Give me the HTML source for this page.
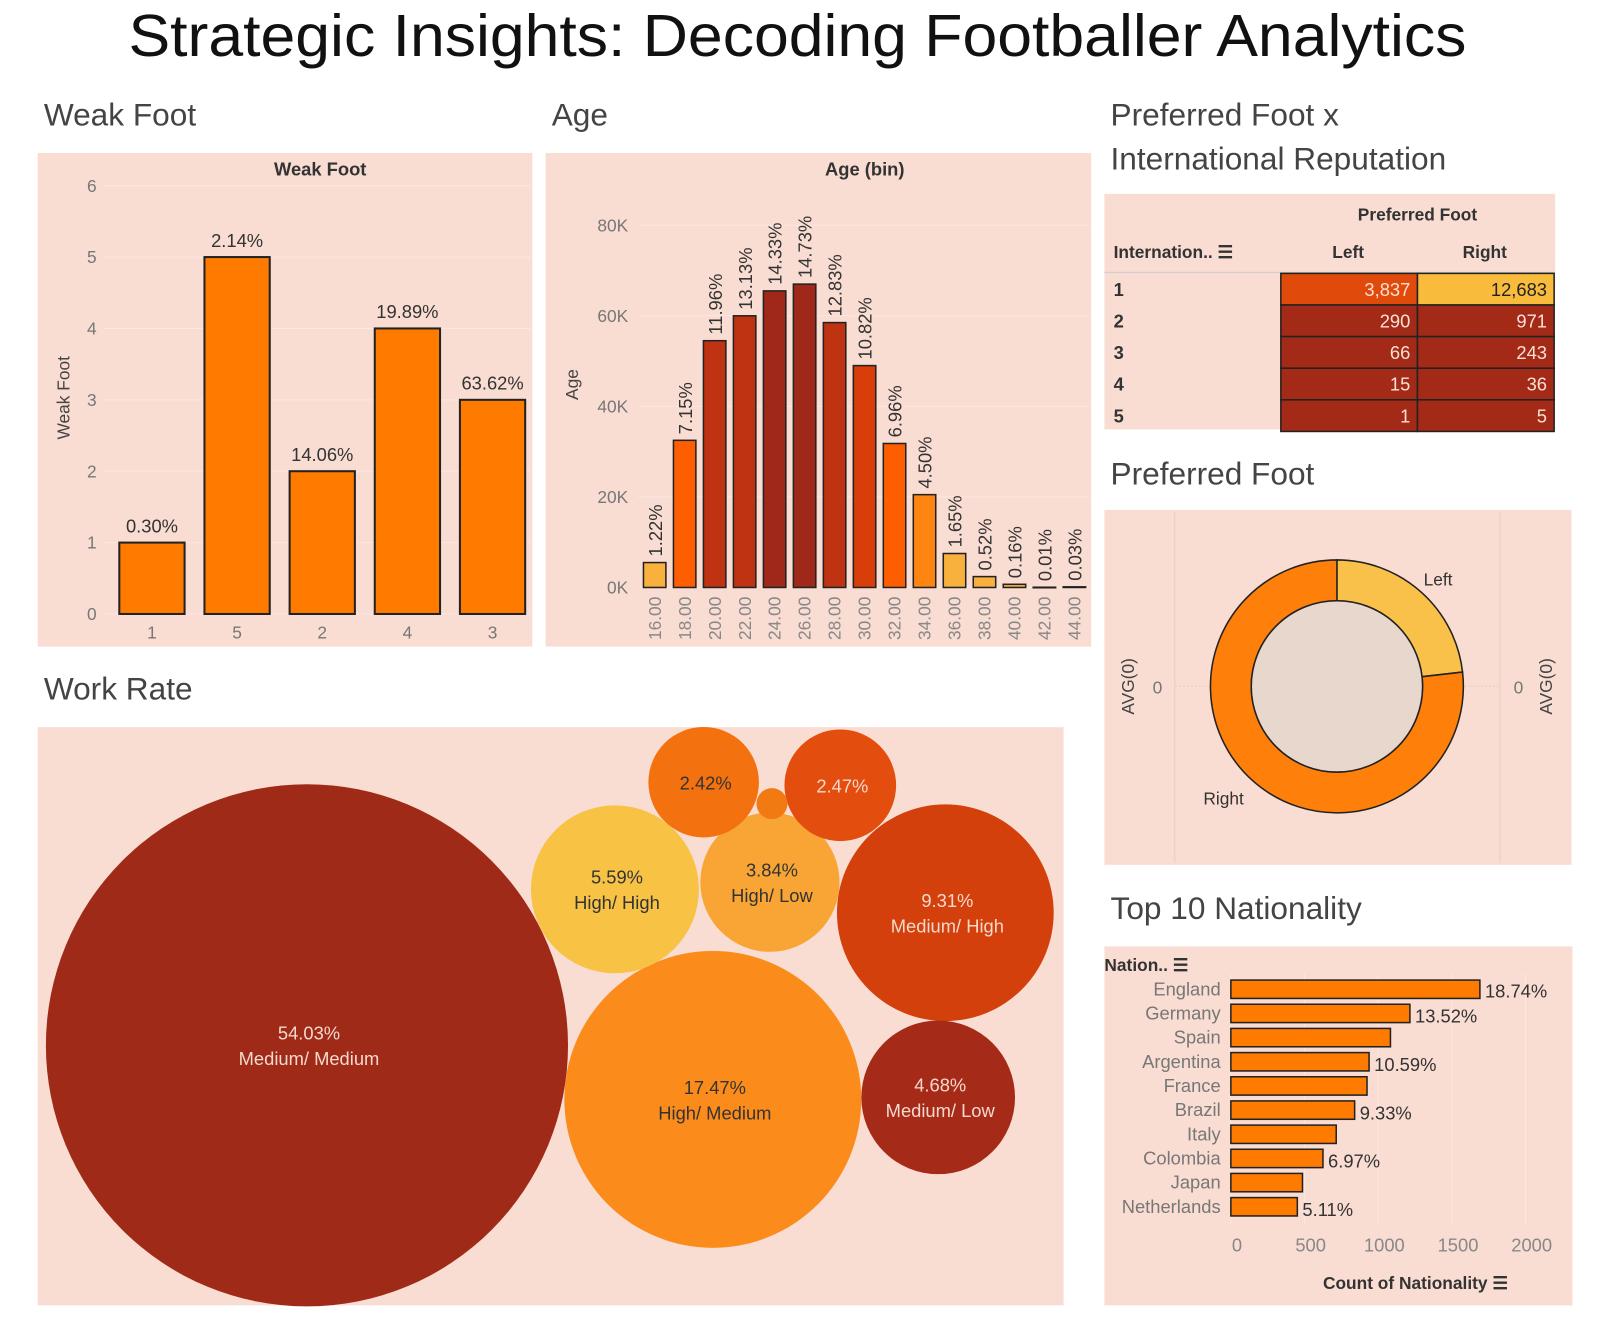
<!DOCTYPE html>
<html><head><meta charset="utf-8">
<style>
html,body{margin:0;padding:0;background:#fff;}
svg{display:block;font-family:"Liberation Sans",sans-serif;}
</style></head>
<body>
<svg id="c" width="1599" height="1333" viewBox="0 0 1568 1307" xmlns="http://www.w3.org/2000/svg">
<text x="782" y="55" text-anchor="middle" font-size="58" fill="#111" textLength="1312" lengthAdjust="spacingAndGlyphs">Strategic Insights: Decoding Footballer Analytics</text>
<text x="43" y="123" font-size="31" fill="#444">Weak Foot</text>
<text x="541" y="123" font-size="31" fill="#444">Age</text>
<text x="1089" y="123" font-size="31" fill="#444">Preferred Foot x</text>
<text x="1089" y="166" font-size="31" fill="#444">International Reputation</text>
<text x="1089" y="475" font-size="31" fill="#444">Preferred Foot</text>
<text x="43" y="686" font-size="31" fill="#444">Work Rate</text>
<text x="1089" y="901" font-size="31" fill="#444">Top 10 Nationality</text>

<rect x="37" y="150" width="485" height="484" fill="#f9dcd2"/>
<rect x="535" y="150" width="535" height="484" fill="#f9dcd2"/>
<rect x="1083" y="190" width="442" height="231" fill="#f9dcd2"/>
<rect x="1083" y="500" width="458" height="348" fill="#f9dcd2"/>
<rect x="37" y="713" width="1006" height="567" fill="#f9dcd2"/>
<rect x="1083" y="928" width="459" height="352" fill="#f9dcd2"/>
<g id="g"></g>
</svg>
<script>
// Weak foot
const wfCats=['1','5','2','4','3'];
const wfVals=[1,5,2,4,3];
const wfLabels=['0.30%','2.14%','14.06%','19.89%','63.62%'];
const wfTicks=[0,1,2,3,4,5,6];
// Age
const ageBins=['16.00','18.00','20.00','22.00','24.00','26.00','28.00','30.00','32.00','34.00','36.00','38.00','40.00','42.00','44.00'];
const ageVals=[5.5,32.5,54.5,60,65.5,67,58.5,49,31.8,20.5,7.5,2.4,0.7,0.05,0.14];
const agePct=['1.22%','7.15%','11.96%','13.13%','14.33%','14.73%','12.83%','10.82%','6.96%','4.50%','1.65%','0.52%','0.16%','0.01%','0.03%'];
const ageTicks=[0,20,40,60,80];
// Table
const repRows=['1','2','3','4','5'];
const repLeft=[3837,290,66,15,1];
const repRight=[12683,971,243,36,5];
// Donut
const footCats=['Left','Right'];
const footVals=[4209,13938];
// Work rate
const wrLabels=['54.03%\nMedium/ Medium','17.47%\nHigh/ Medium','9.31%\nMedium/ High','5.59%\nHigh/ High','4.68%\nMedium/ Low','3.84%\nHigh/ Low','2.47%','2.42%',''];
const wrVals=[54.03,17.47,9.31,5.59,4.68,3.84,2.47,2.42,0.19];
// Nationality
const natCats=['England','Germany','Spain','Argentina','France','Brazil','Italy','Colombia','Japan','Netherlands'];
const natVals=[1690,1215,1083,938,924,840,715,625,486,451];
const natPct=['18.74%','13.52%','','10.59%','','9.33%','','6.97%','','5.11%'];
const natTicks=[0,500,1000,1500,2000];

const NS='http://www.w3.org/2000/svg';
const G=document.getElementById('g');
function el(t,a,txt){const e=document.createElementNS(NS,t);for(const k in a)e.setAttribute(k,a[k]);if(txt!==undefined)e.textContent=txt;G.appendChild(e);return e;}

// Weak Foot chart
{
const y=v=>602-v*70, x0=117, step=83.5, bw=64;
let t=el('text',{x:314,y:172,'text-anchor':'middle','font-size':18,fill:'#333','font-weight':'bold'},'Weak Foot');


t=el('text',{x:68,y:390,'text-anchor':'middle','font-size':17,fill:'#444',transform:'rotate(-90 68 390)'},'Weak Foot');


wfTicks.forEach(v=>{
 let l=el('line',{x1:102,x2:520,y1:y(v),y2:y(v),stroke:'#fbe8e1','stroke-width':1});
 
 
 let tt=el('text',{x:90,y:y(v)+6,'text-anchor':'middle','font-size':17,fill:'#777'},String(v));
 
 
});
wfVals.forEach((v,i)=>{
 const x=x0+i*step;
 let r=el('rect',{x:x,y:y(v),width:bw,height:y(0)-y(v),fill:'#fe7b00',stroke:'#222','stroke-width':2});
 
 
 let l=el('text',{x:x+bw/2,y:y(v)-10,'text-anchor':'middle','font-size':18,fill:'#333'},wfLabels[i]);
 
 
 let c=el('text',{x:x+bw/2,y:626,'text-anchor':'middle','font-size':17,fill:'#777'},wfCats[i]);
 
 
});
}

// Age chart
{
const y=v=>576-v*4.44, x0=631, step=29.4, bw=22;
let t=el('text',{x:848,y:172,'text-anchor':'middle','font-size':18,fill:'#333','font-weight':'bold'},'Age (bin)');


t=el('text',{x:567,y:377,'text-anchor':'middle','font-size':17,fill:'#444',transform:'rotate(-90 567 377)'},'Age');


ageTicks.forEach(v=>{
 let l=el('line',{x1:626,x2:1068,y1:y(v),y2:y(v),stroke:'#fbe8e1','stroke-width':1});
 
 
 let tt=el('text',{x:616,y:y(v)+6,'text-anchor':'end','font-size':17,fill:'#777'},v+'K');
 
 
});
ageVals.forEach((v,i)=>{
 const x=x0+i*step;
 const col=v>62?'#a0281a':v>50?'#bf3212':v>40?'#d93e0a':v>25?'#fe5e00':v>10?'#fe8512':'#f9b13e';
 let r=el('rect',{x:x,y:y(v),width:bw,height:Math.max(y(0)-y(v),0.5),fill:col,stroke:'#222','stroke-width':1.5});
 
 
 const ly=y(v)-6, lx=x+bw/2+7;
 let l=el('text',{x:lx,y:ly,'font-size':18,fill:'#333',transform:'rotate(-90 '+lx+' '+ly+')'},agePct[i]);
 
 
 const cx=x+bw/2+6;
 let c=el('text',{x:cx,y:585,'text-anchor':'end','font-size':17,fill:'#888',transform:'rotate(-90 '+cx+' 585)'},ageBins[i]);
 
 
});
}

// Table
{
let t=el('text',{x:1390,y:216,'text-anchor':'middle','font-size':17,fill:'#333','font-weight':'bold'},'Preferred Foot');


t=el('text',{x:1092,y:253,'font-size':17,fill:'#333','font-weight':'bold'},'Internation.. ☰');


t=el('text',{x:1322,y:253,'text-anchor':'middle','font-size':17,fill:'#333','font-weight':'bold'},'Left');


t=el('text',{x:1456,y:253,'text-anchor':'middle','font-size':17,fill:'#333','font-weight':'bold'},'Right');


let ln=el('line',{x1:1083,x2:1525,y1:267,y2:267,stroke:'#ccc'});


const colr=v=>v>10000?'#f8bb3c':v>2000?'#e04a0a':'#a42a18';
repRows.forEach((r,i)=>{
 const y=268+i*31;
 let rt=el('text',{x:1092,y:y+22,'font-size':18,fill:'#333','font-weight':'bold'},r);
 
 
 [[repLeft[i],1256],[repRight[i],1390]].forEach(([v,x])=>{
  let c=el('rect',{x:x,y:y,width:134,height:31,fill:colr(v),stroke:'#222','stroke-width':1.5});
  
  
  let ct=el('text',{x:x+127,y:y+22,'text-anchor':'end','font-size':18,fill:v>10000?'#222':'#fbe0d5'},v.toLocaleString('en-US'));
  
  
 });
});
}

// Donut
{
const cx=1311,cy=673,R=124,r0=84;
[1152,1471].forEach(x=>{let l=el('line',{x1:x,x2:x,y1:502,y2:846,stroke:'#e6cfc7'});});
let l=el('line',{x1:1152,x2:1471,y1:673,y2:673,stroke:'#e6cfc7','stroke-dasharray':'2 2'});

[[1112,'AVG(0)'],[1522,'AVG(0)']].forEach(([x,s])=>{let t=el('text',{x:x,y:673,'text-anchor':'middle','font-size':17,fill:'#444',transform:'rotate(-90 '+x+' 673)'},s);});
[[1135,'0'],[1489,'0']].forEach(([x,s])=>{let t=el('text',{x:x,y:680,'text-anchor':'middle','font-size':17,fill:'#777'},s);});
const tot=footVals.reduce((a,b)=>a+b,0);
const cols=['#f9c14a','#fe7f0a'];
let a0=-Math.PI/2;
footVals.forEach((v,i)=>{
 const a1=a0+v/tot*2*Math.PI, lg=(a1-a0)>Math.PI?1:0;
 const p=(a,rr)=>(cx+rr*Math.cos(a)).toFixed(2)+' '+(cy+rr*Math.sin(a)).toFixed(2);
 const d='M'+p(a0,R)+' A'+R+' '+R+' 0 '+lg+' 1 '+p(a1,R)+' L'+p(a1,r0)+' A'+r0+' '+r0+' 0 '+lg+' 0 '+p(a0,r0)+' Z';
 let s=el('path',{d:d,fill:cols[i],stroke:'#222','stroke-width':1.5});
 
 
 a0=a1;
});
let c=el('circle',{cx:cx,cy:cy,r:r0,fill:'#e8d7cc',stroke:'#222','stroke-width':1.5});

let t=el('text',{x:1396,y:574,'font-size':17,fill:'#333'},footCats[0]);

t=el('text',{x:1180,y:789,'font-size':17,fill:'#333'},footCats[1]);

}

// Work rate bubbles (layout positions; radius from value)
{
const pos=[[301,1025],[699,1078],[927,895],[603,872],[920,1076],[755,865],[824,770],[690,767],[757,788]];
const cols=['#9e2a17','#fb8c1c','#d4400b','#f8c245','#a62a18','#f9a535','#e34d0e','#f4710f','#f27a12'];
const dark=[true,false,true,false,true,false,true,false,false];
const k=256/Math.sqrt(54.03);
wrVals.forEach((v,i)=>{
 const r=k*Math.sqrt(v);
 let c=el('circle',{cx:pos[i][0],cy:pos[i][1],r:r,fill:cols[i]});
 
 
 const lines=wrLabels[i].split('\n').filter(s=>s);
 lines.forEach((s,j)=>{
  let t=el('text',{x:pos[i][0]+2,y:pos[i][1]+7+(j-(lines.length-1)/2)*25,'text-anchor':'middle','font-size':18,fill:dark[i]?'#f6d9cd':'#333'},s);
  
  
 });
});
}

// Nationality
{
const x=v=>1207+v*0.1445, y0=961, step=23.7, bh=18;
let t=el('text',{x:1083,y:952,'font-size':17,fill:'#333','font-weight':'bold'},'Nation.. ☰');

natTicks.forEach(v=>{
 let l=el('line',{x1:x(v),x2:x(v),y1:955,y2:1200,stroke:'#fbe8e1'});
 
 let tt=el('text',{x:x(v)+6,y:1227,'text-anchor':'middle','font-size':18,fill:'#888'},String(v));
 
});
natVals.forEach((v,i)=>{
 const y=y0+i*step;
 let r=el('rect',{x:x(0),y:y,width:x(v)-x(0),height:bh,fill:'#fe7b00',stroke:'#222','stroke-width':1.5});
 
 
 let c=el('text',{x:1197,y:y+15,'text-anchor':'end','font-size':18,fill:'#777'},natCats[i]);
 
 if(natPct[i]){let p=el('text',{x:x(v)+5,y:y+i%2+17,'font-size':18,fill:'#333'},natPct[i]);}
});
t=el('text',{x:1388,y:1264,'text-anchor':'middle','font-size':17,fill:'#333','font-weight':'bold'},'Count of Nationality ☰');

}
</script>
</body></html>
